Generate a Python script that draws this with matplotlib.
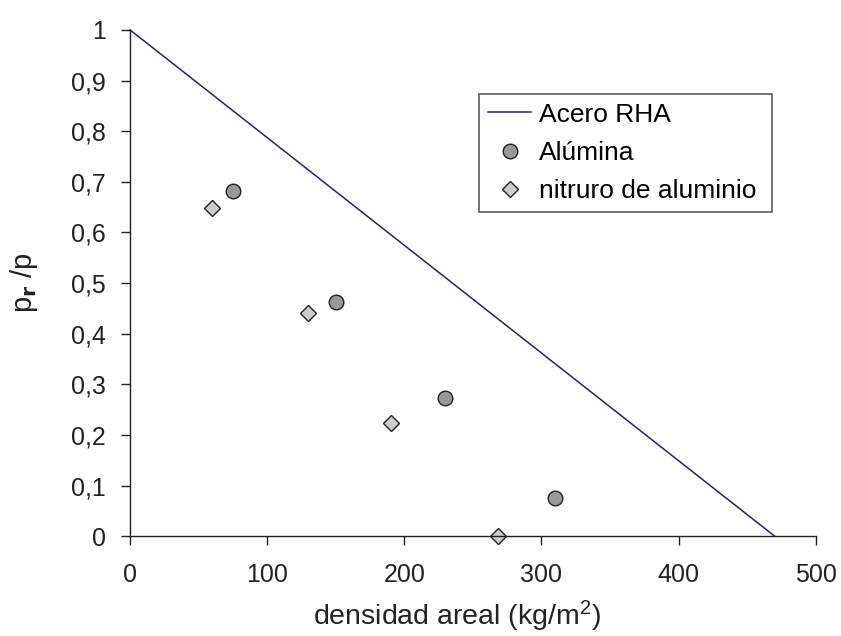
import matplotlib
matplotlib.use("Agg")
import matplotlib.pyplot as plt
from matplotlib.ticker import FuncFormatter

plt.rcParams['font.family'] = ['Liberation Sans', 'DejaVu Sans']
plt.rcParams['mathtext.fontset'] = 'custom'
plt.rcParams['mathtext.rm'] = 'Liberation Sans'
plt.rcParams['mathtext.it'] = 'Liberation Sans'

# Acero RHA reference line
rha_x = [0, 470]
rha_y = [1.0, 0.0]

# Alúmina
alumina_x = [75, 150, 230, 310]
alumina_y = [0.682, 0.462, 0.272, 0.075]

# nitruro de aluminio
nitruro_x = [60, 130, 190, 268]
nitruro_y = [0.648, 0.441, 0.224, 0.0]

x_ticks = [0, 100, 200, 300, 400, 500]
y_ticks = [0, 0.1, 0.2, 0.3, 0.4, 0.5, 0.6, 0.7, 0.8, 0.9, 1.0]

fig = plt.figure(figsize=(8.41, 6.36), dpi=100)
ax = fig.add_axes([0.1546, 0.157, 0.8154, 0.796])

ax.plot(rha_x, rha_y, color='#23236b', lw=1.1, label='Acero RHA', clip_on=False)
ax.plot(alumina_x, alumina_y, ls='none', marker='o', ms=10.5,
        mfc='#999999', mec='#222222', mew=1.0, label='Alúmina', clip_on=False)
ax.plot(nitruro_x, nitruro_y, ls='none', marker='D', ms=8,
        mfc='#cccccc', mec='#222222', mew=1.0, label='nitruro de aluminio', clip_on=False)

ax.set_xlim(0, 500)
ax.set_ylim(0, 1)
ax.set_xticks(x_ticks)
ax.set_yticks(y_ticks)
ax.yaxis.set_major_formatter(FuncFormatter(
    lambda v, p: '0' if v == 0 else ('1' if v == 1 else ('%.1f' % v).replace('.', ','))))

for s in ['top', 'right']:
    ax.spines[s].set_visible(False)
for s in ['left', 'bottom']:
    ax.spines[s].set_color('#222222')
    ax.spines[s].set_linewidth(1.0)

ax.tick_params(direction='out', length=6.5, width=1, colors='#222222',
               labelsize=18, labelcolor='#222222')
ax.tick_params(axis='x', pad=13)
ax.tick_params(axis='y', pad=11)

ax.set_xlabel('densidad areal (kg/m$^{2}$)', fontsize=20.5, color='#222222', labelpad=8)
ax.xaxis.label.set_x(0.477)
ax.set_ylabel(r'p$_{\mathbf{r}}$ /p', fontsize=21, color='#222222', labelpad=22)

leg = ax.legend(loc='upper left', bbox_to_anchor=(0.509, 0.8735, 0.427, 0),
                mode='expand', fontsize=19,
                frameon=True, fancybox=False, handlelength=1.65,
                borderpad=0.33, labelspacing=0.54, handletextpad=0.3,
                borderaxespad=0)
leg.get_frame().set_edgecolor('#333333')
leg.get_frame().set_linewidth(1.2)

fig.savefig('out.png', dpi=100)
